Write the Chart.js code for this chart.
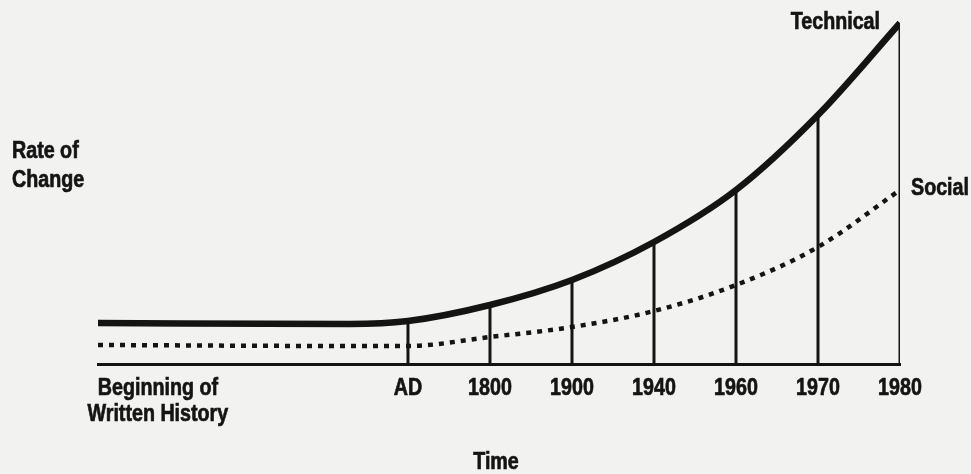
<!DOCTYPE html>
<html>
<head>
<meta charset="utf-8">
<script src="https://cdn.jsdelivr.net/npm/chart.js@4.4.1/dist/chart.umd.min.js"></script>
<style>
  html, body { margin: 0; padding: 0; background: #f2f2f0; }
  #wrap { width: 971px; height: 474px; position: relative; }
</style>
</head>
<body>
<div id="wrap"><canvas id="c" width="971" height="474"></canvas></div>
<script>
// positions along the time axis (1 unit = one gap between the vertical rules)
const xPos = [0, 3.07, 3.78, 4.78, 5.78, 6.78, 7.78, 8.78, 9.78];
const technical = [41, 40, 43, 59, 84, 122, 174, 249, 341];
const social = [19, 18, 18, 27, 37, 53, 79, 117, 174];

const tickPos = [0.73, 3.78, 4.78, 5.78, 6.78, 7.78, 8.78, 9.78];
const tickLabels = [['Beginning of', 'Written History'], 'AD', '1800', '1900', '1940', '1960', '1970', '1980'];
// which points get a vertical rule up to the technical curve
const ruleIdx = [2, 3, 4, 5, 6, 7, 8];

const FONT = 'bold 24px "Liberation Sans", Arial, sans-serif';
const SQUEEZE = 0.82; // the original type is a condensed face
const INK = '#141414';

const toPts = vals => vals.map((v, i) => ({ x: xPos[i], y: v }));

const datasets = [
  {
    label: 'Technical',
    data: toPts(technical),
    borderColor: INK,
    borderWidth: 6.5,
    pointRadius: 0,
    cubicInterpolationMode: 'monotone'
  },
  {
    label: 'Social',
    data: toPts(social),
    borderColor: INK,
    borderWidth: 4.5,
    borderDash: [5, 6],
    pointRadius: 0,
    cubicInterpolationMode: 'monotone'
  }
];
ruleIdx.forEach(i => {
  datasets.push({
    label: 'rule' + i,
    data: [{ x: xPos[i], y: 0 }, { x: xPos[i], y: technical[i] }],
    borderColor: INK,
    borderWidth: 3,
    pointRadius: 0
  });
});

function say(ctx, str, x, y, align) {
  ctx.save();
  ctx.translate(x, y);
  ctx.scale(SQUEEZE, 1);
  ctx.textAlign = align;
  ctx.fillText(str, 0, 0);
  ctx.strokeText(str, 0, 0); // a little extra weight
  ctx.restore();
}

// all the lettering, in a narrow face
const notes = {
  id: 'notes',
  afterDraw(chart) {
    const { ctx, chartArea, scales: { x, y } } = chart;
    const last = xPos.length - 1;
    const ex = x.getPixelForValue(xPos[last]);
    ctx.save();
    ctx.fillStyle = INK;
    ctx.strokeStyle = INK;
    ctx.lineWidth = 0.7;
    ctx.font = FONT;
    ctx.textBaseline = 'alphabetic';

    // tick labels
    tickPos.forEach((p, i) => {
      const px = x.getPixelForValue(p);
      const lab = [].concat(tickLabels[i]);
      lab.forEach((line, k) => say(ctx, line, px, chartArea.bottom + 31 + k * 26, 'center'));
    });

    say(ctx, 'Time', (chartArea.left + chartArea.right) / 2 - 3, chartArea.bottom + 105, 'center');
    say(ctx, 'Rate of', 12, 158, 'left');
    say(ctx, 'Change', 12, 187, 'left');
    say(ctx, 'Technical', ex - 20, y.getPixelForValue(technical[last]) + 6, 'right');
    say(ctx, 'Social', ex + 11, y.getPixelForValue(social[last]) + 5, 'left');
    ctx.restore();
  }
};

new Chart(document.getElementById('c'), {
  type: 'line',
  data: { datasets },
  options: {
    responsive: false,
    animation: false,
    layout: { padding: { top: 20, left: 98, right: 71, bottom: 0 } },
    plugins: { legend: { display: false }, tooltip: { enabled: false } },
    scales: {
      x: {
        type: 'linear',
        min: xPos[0],
        max: xPos[xPos.length - 1],
        grid: { display: false, drawTicks: false },
        border: { display: true, width: 3, color: INK },
        ticks: { display: false },
        afterFit: s => { s.height = 110; }
      },
      y: {
        display: false,
        min: 0,
        max: 344
      }
    }
  },
  plugins: [notes]
});
</script>
</body>
</html>
